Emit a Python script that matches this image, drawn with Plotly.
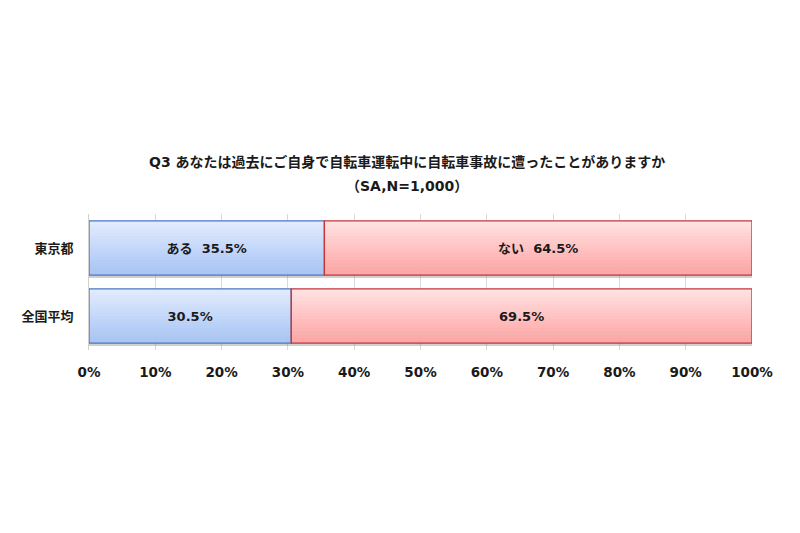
import plotly.graph_objects as go

categories = ["東京都", "全国平均"]
aru = [35.5, 30.5]
nai = [64.5, 69.5]
aru_text = ["ある  35.5%", "30.5%"]
nai_text = ["ない  64.5%", "69.5%"]
x_ticks = [0, 10, 20, 30, 40, 50, 60, 70, 80, 90, 100]
x_ticklabels = [f"{v}%" for v in x_ticks]
title_lines = [
    "Q3 あなたは過去にご自身で自転車運転中に自転車事故に遭ったことがありますか",
    "（SA,N=1,000）",
]

FONT = "DejaVu Sans, Noto Sans CJK JP, sans-serif"
BAR_W = 0.8
N_STRIPS = 18


def mix(c1, c2, t):
    return "rgb(%d,%d,%d)" % tuple(round(a + (b - a) * t) for a, b in zip(c1, c2))


fig = go.Figure()

# soft drop shadow under the bars
for vals, base in [(aru, [0, 0]), (nai, aru)]:
    fig.add_trace(go.Bar(
        y=categories, x=vals, base=base, orientation="h",
        width=BAR_W, offset=-BAR_W / 2 + 0.04,
        marker=dict(color="rgba(120,120,120,0.35)", line=dict(width=0)),
        hoverinfo="skip", showlegend=False,
    ))

# vertical gradient fill made of thin strips
series = [
    (aru, [0, 0], (226, 235, 253), (166, 196, 245)),
    (nai, aru, (255, 226, 226), (255, 163, 163)),
]
strip = BAR_W / N_STRIPS
for vals, base, top, bottom in series:
    for i in range(N_STRIPS):
        fig.add_trace(go.Bar(
            y=categories, x=vals, base=base, orientation="h",
            width=strip * 1.05, offset=-BAR_W / 2 + i * strip,
            marker=dict(color=mix(top, bottom, i / (N_STRIPS - 1)), line=dict(width=0)),
            hoverinfo="skip", showlegend=False,
        ))

# outlines + labels
for vals, base, txt, edge, name in [
    (aru, [0, 0], aru_text, "#4a78c4", "ある"),
    (nai, aru, nai_text, "#c43638", "ない"),
]:
    fig.add_trace(go.Bar(
        y=categories, x=vals, base=base, orientation="h", name=name,
        width=BAR_W, offset=-BAR_W / 2,
        marker=dict(color="rgba(0,0,0,0)", line=dict(color=edge, width=1.3)),
        text=txt, textposition="inside", insidetextanchor="middle",
        textfont=dict(family=FONT, size=13, color="#1a1a1a", weight="bold"),
        showlegend=False,
    ))

for line, ypos in zip(title_lines, [1.38, 1.205]):
    fig.add_annotation(
        text=line, xref="paper", yref="paper", x=0.48, y=ypos,
        xanchor="center", yanchor="middle", showarrow=False,
        font=dict(family=FONT, size=14, color="#1a1a1a", weight="bold"),
    )

fig.update_layout(
    width=800, height=533,
    barmode="overlay",
    plot_bgcolor="white", paper_bgcolor="white",
    margin=dict(l=81, r=56, t=206, b=191),
    xaxis=dict(
        range=[0, 100], tickvals=x_ticks, ticktext=x_ticklabels,
        showgrid=True, gridcolor="#d9d9d9", gridwidth=1,
        zeroline=False, showline=False, ticks="",
        tickfont=dict(family=FONT, size=13.5, color="#1a1a1a", weight="bold"),
        ticklabelstandoff=12,
    ),
    yaxis=dict(
        autorange="reversed", showgrid=False, zeroline=False,
        showline=True, linecolor="#d0d0d0", linewidth=1, ticks="",
        tickfont=dict(family=FONT, size=13, color="#1a1a1a", weight="bold"),
        ticklabelstandoff=12,
    ),
    font=dict(family=FONT),
)

fig.write_html("out.html")
